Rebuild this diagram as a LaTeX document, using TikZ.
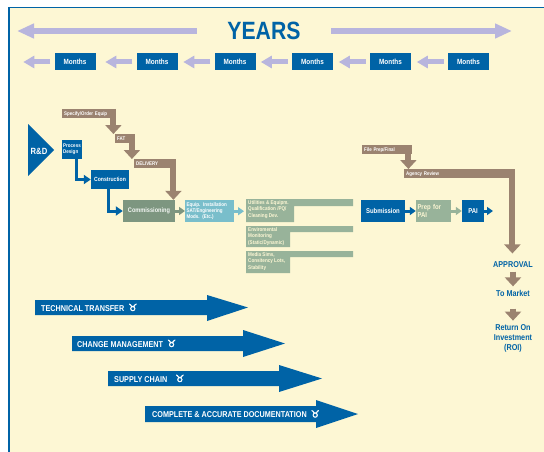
\documentclass[tikz,border=0pt]{standalone}
\usepackage{fontspec}
\usetikzlibrary{positioning,arrows.meta}
\newfontfamily\cond[FakeStretch=0.85]{Liberation Sans}
\newfontfamily\symf[FakeBold=2.5]{DejaVu Sans}
\definecolor{panel}{RGB}{253,247,212}
\definecolor{fdablue}{RGB}{0,99,166}
\definecolor{lav}{RGB}{184,181,221}
\definecolor{taupe}{RGB}{155,131,112}
\definecolor{sage}{RGB}{125,150,128}
\definecolor{lsage}{RGB}{152,179,154}
\definecolor{aqua}{RGB}{121,190,203}

\begin{document}
\begin{tikzpicture}[x=1pt,y=-1pt,
	box/.style={text=white, inner sep=1.5pt, align=left, font=\cond\bfseries\fontsize{5}{6}\selectfont},
	qual/.style={text=panel, anchor=north west, inner sep=0pt, align=left, font=\cond\bfseries\fontsize{5.4}{6.6}\selectfont},
	monthbox/.style={fill=fdablue, text=white, inner sep=0pt, minimum width=41pt, minimum height=17pt, font=\cond\bfseries\fontsize{7.5}{8}\selectfont},
	tag/.style={fill=taupe, text=white, anchor=north west, inner xsep=2pt, inner ysep=0pt, minimum height=9pt, align=left, font=\cond\bfseries\fontsize{5.2}{5.5}\selectfont},
	bluetxt/.style={text=fdablue, align=center, font=\cond\bfseries\fontsize{8.5}{10}\selectfont},
	bandtxt/.style={text=white, anchor=west, inner sep=0pt, font=\cond\bfseries\fontsize{8.5}{9}\selectfont},
	lavarr/.style={draw=lav, line width=5pt, -{Triangle[width=12pt,length=11pt]}},
	yeararr/.style={draw=lav, line width=6.5pt, -{Triangle[width=14pt,length=17pt]}},
	elbow/.style={draw=fdablue, line width=3pt, -{Triangle[width=9pt,length=7pt]}},
	smallarr/.style={line width=3pt, -{Triangle[width=8pt,length=6pt]}},
	drop/.style={draw=taupe, line width=6pt, -{Triangle[width=16pt,length=9pt]}}]

	\useasboundingbox (0,0) rectangle (544,452);
	% panel
	\fill[panel] (8,7) rectangle (544,452);
	\draw[fdablue, line width=0.8pt] (8,7) -- (544,7);
	\draw[fdablue, line width=2pt] (9,7) -- (9,452);

	% years
	\node[text=fdablue, font=\cond\bfseries\fontsize{25}{25}\selectfont] (years) at (264,31) {YEARS};
	\coordinate (yl) at (17,31);
	\coordinate (yr) at (512,31);
	\draw[yeararr] ([xshift=-27pt]years.west) -- (yl);
	\draw[yeararr] ([xshift=27pt]years.east) -- (yr);

	% months
	\foreach \i/\x in {1/75,2/157,3/235,4/312.5,5/390.5,6/468.5}{
		\node[monthbox] (m\i) at (\x,62) {Months};
		\draw[lavarr] ([xshift=-4pt]m\i.west) -- ++(-27,0);
	}

	% R&D
	\fill[fdablue] (28,124) -- (54,150) -- (28,176) -- cycle;
	\node[text=white, font=\cond\bfseries\fontsize{9}{9}\selectfont] (rd) at (39,151) {R\&D};

	% blue chain
	\node[box, fill=fdablue, minimum width=20pt, minimum height=19pt, inner sep=1pt, font=\cond\bfseries\fontsize{5.3}{6}\selectfont] (pd) at (72,149.5) {Process\\Design};
	\node[box, fill=fdablue, minimum width=38pt, minimum height=19pt, font=\cond\bfseries\fontsize{6}{6}\selectfont] (con) at (110,179.5) {Construction};
	\node[box, fill=sage, text=white!88!lsage, minimum width=52pt, minimum height=22pt, font=\cond\bfseries\fontsize{6.6}{7}\selectfont] (comm) at (149,211) {Commissioning};
	\draw[elbow] ([xshift=4pt]pd.south) |- (con.west);
	\draw[elbow] ([xshift=-2pt]con.south) |- (comm.west);

	% equipment
	\node[tag, text width=50pt] (spec) at (62,109) {Specify/Order Equip};
	\node[tag, text width=16pt] (fat) at (115,134) {FAT};
	\node[tag, text width=38pt] (deliv) at (134,159) {DELIVERY};
	\draw[drop] ([xshift=-3pt]spec.north east) -- ([xshift=-3pt]spec.north east |- fat.north);
	\draw[drop] ([xshift=-3.5pt]fat.north east) -- ([xshift=-3.5pt]fat.north east |- deliv.north);
	\draw[drop] ([xshift=-3pt]deliv.north east) -- ([xshift=-3pt]deliv.north east |- comm.north);

	% qualification
	\node[box, fill=aqua, anchor=north west, text width=46pt, minimum height=22pt, font=\cond\bfseries\fontsize{5.3}{6.3}\selectfont] (equip) at (185,200) {Equip. Installation\\SAT/Engineering\\Mods. (Etc.)};
	\fill[lsage] (246,199) rectangle (353,206) (246,199) rectangle (294,222);
	\fill[lsage] (246,226) rectangle (353,232) (246,226) rectangle (290,247);
	\fill[lsage] (246,251) rectangle (353,257) (246,251) rectangle (290,273);
	\node[qual] (util) at (248,200) {Utilities \& Equipm.\\Qualification /PQ/\\Cleaning Dev.};
	\node[qual] (env) at (248,227) {Enviromental\\Monitoring\\(Static/Dynamic)};
	\node[qual] (media) at (248,252) {Media Sims,\\Consitency Lots,\\Stability};
	\draw[smallarr, sage] (comm.east) -- (comm.east -| equip.west);
	\draw[smallarr, aqua, shorten >=4pt] (equip.east) -- (equip.east -| util.west);

	% submission
	\node[box, fill=fdablue, minimum width=44pt, minimum height=22pt, font=\cond\bfseries\fontsize{7}{7}\selectfont] (sub) at (383,211) {Submission};
	\node[box, fill=lsage, text=panel, text width=32pt, minimum height=22pt, font=\cond\bfseries\fontsize{7}{7.5}\selectfont] (prep) at (433.5,211) {Prep for\\PAI};
	\node[box, fill=fdablue, minimum width=22pt, minimum height=22pt, font=\cond\bfseries\fontsize{7}{7}\selectfont] (pai) at (473,211) {PAI};
	\coordinate (paiend) at (493,211);
	\draw[smallarr, fdablue] (sub) -- (prep);
	\draw[smallarr, lsage] (prep) -- (pai);
	\draw[smallarr, fdablue] (pai) -- (paiend);

	% filing
	\node[tag, text width=46pt] (file) at (362,145) {File Prep/Final};
	\node[tag, text width=107pt] (agency) at (404,169) {Agency Review};
	\node[bluetxt] (appr) at (513,265) {APPROVAL};
	\node[bluetxt] (mkt) at (513,293) {To Market};
	\node[bluetxt] (roi) at (513,338) {Return On\\Investment\\(ROI)};
	\draw[drop] ([xshift=-4pt]file.north east) -- ([xshift=-4pt]file.north east |- agency.north);
	\draw[drop, shorten >=5pt] ([xshift=-3pt]agency.north east) -- ([xshift=-3pt]agency.north east |- appr.north);
	\draw[drop] (appr) -- (mkt);
	\draw[drop, shorten <=9pt] (mkt) -- (roi);

	% bands
	\fill[fdablue] (35,300) -- (207,300) -- (207,295) -- (248,307.5) -- (207,321) -- (207,315) -- (35,315) -- cycle;
	\node[bandtxt] (tt) at (41,307.5) {TECHNICAL TRANSFER\ \ {\symf\fontsize{10}{10}\selectfont ♉}};
	\fill[fdablue] (72,336) -- (243,336) -- (243,330) -- (285,343.5) -- (243,357) -- (243,351) -- (72,351) -- cycle;
	\node[bandtxt] (cm) at (77,343.5) {CHANGE MANAGEMENT\ \ {\symf\fontsize{10}{10}\selectfont ♉}};
	\fill[fdablue] (108,371) -- (279,371) -- (279,365) -- (322,378.5) -- (279,392) -- (279,386) -- (108,386) -- cycle;
	\node[bandtxt] (sc) at (114,378.5) {SUPPLY CHAIN\ \ \ \ {\symf\fontsize{10}{10}\selectfont ♉}};
	\fill[fdablue] (145,406) -- (316,406) -- (316,400) -- (358,414) -- (316,428) -- (316,422) -- (145,422) -- cycle;
	\node[bandtxt] (cad) at (152,414) {COMPLETE \& ACCURATE DOCUMENTATION\ \ {\symf\fontsize{10}{10}\selectfont ♉}};
\end{tikzpicture}
\end{document}
